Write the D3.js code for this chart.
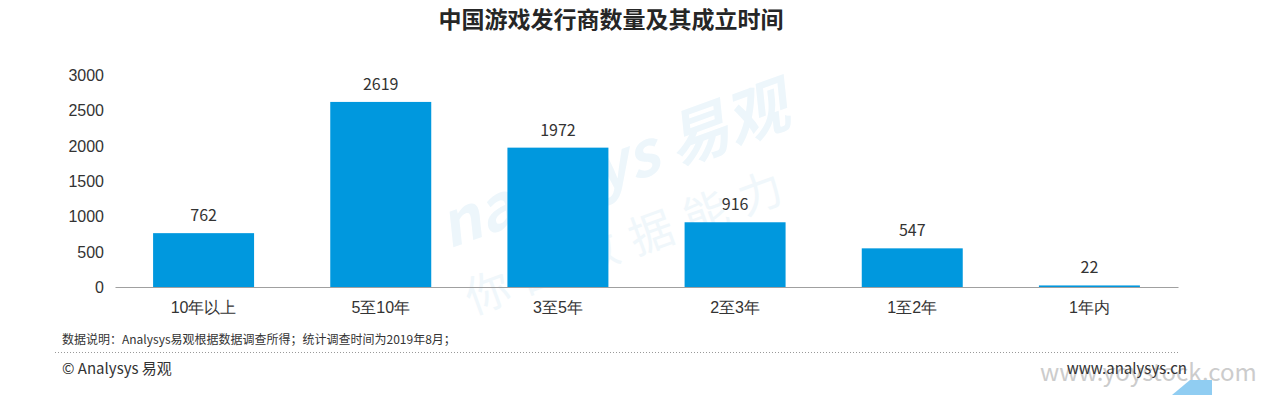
<!DOCTYPE html>
<html lang="zh">
<head>
<meta charset="UTF-8">
<title>中国游戏发行商数量及其成立时间</title>
<script src="https://d3js.org/d3.v7.min.js"></script>
<style>
  body { margin: 0; background: #fff; font-family: "Noto Sans CJK SC", "Noto Sans", sans-serif; }
  svg text { fill: #333; }
</style>
</head>
<body>
<div id="chart"></div>
<script>
const categories = ["10年以上", "5至10年", "3至5年", "2至3年", "1至2年", "1年内"];
const values = [762, 2619, 1972, 916, 547, 22];
const yTicks = [0, 500, 1000, 1500, 2000, 2500, 3000];

const W = 1261, H = 395;
const margin = { top: 75, left: 115, right: 83, bottom: 108 };

const svg = d3.select("#chart").append("svg")
  .attr("width", W).attr("height", H);

// faint watermark
const wm = svg.append("g").attr("transform", "translate(640,190) rotate(-20)");
wm.append("text").attr("x", -200).attr("y", -10)
  .style("font-size", "62px").style("font-weight", "bold").style("font-style", "italic")
  .style("fill", "#edf6fb").text("nalysys 易观");
wm.append("text").attr("x", -200).attr("y", 60)
  .style("font-size", "44px").style("fill", "#f0f7fb").style("letter-spacing", "14px")
  .text("你的数据能力");

const x = d3.scaleBand().domain(categories)
  .range([margin.left, W - margin.right]).paddingInner(0.43).paddingOuter(0.215);
const y = d3.scaleLinear().domain([0, 3000]).range([H - margin.bottom, margin.top]);

// title
svg.append("text").attr("x", 611).attr("y", 28).attr("text-anchor", "middle")
  .style("font-size", "23px").style("font-weight", "bold").style("fill", "#262626")
  .text("中国游戏发行商数量及其成立时间");

// bars
svg.selectAll("rect.bar").data(values).enter().append("rect")
  .attr("class", "bar")
  .attr("x", (d, i) => x(categories[i]))
  .attr("width", x.bandwidth())
  .attr("y", d => y(d))
  .attr("height", d => y(0) - y(d))
  .style("fill", "#0098de");

// value labels
svg.selectAll("text.val").data(values).enter().append("text")
  .attr("class", "val")
  .attr("x", (d, i) => x(categories[i]) + x.bandwidth() / 2)
  .attr("y", d => y(d) - 12)
  .attr("text-anchor", "middle")
  .style("font-size", "16px")
  .text(d => d);

// y axis
const yAxis = svg.append("g").attr("transform", `translate(${margin.left - 11},0)`)
  .call(d3.axisLeft(y).tickValues(yTicks).tickFormat(d3.format("d")).tickSize(0).tickPadding(0));
yAxis.select(".domain").remove();
yAxis.selectAll("text").style("font-size", "16px").style("fill", "#333").attr("dy", "0.35em");

// x axis
const xAxis = svg.append("g").attr("transform", `translate(0,${y(0)})`)
  .call(d3.axisBottom(x).tickSize(0).tickPadding(15).tickSizeOuter(0));
xAxis.select(".domain").style("stroke", "#a0a0a0").style("stroke-width", 1.2);
xAxis.selectAll("text").style("font-size", "16px").style("fill", "#333");

// footnote
svg.append("text").attr("x", 62).attr("y", 344)
  .style("font-size", "12px").text("数据说明：Analysys易观根据数据调查所得；统计调查时间为2019年8月；");

svg.append("line").attr("x1", 55).attr("x2", 1180).attr("y1", 352.5).attr("y2", 352.5)
  .style("stroke", "#999").style("stroke-dasharray", "1,2");

svg.append("text").attr("x", 62).attr("y", 374)
  .style("font-size", "15px").text("© Analysys 易观");

// external watermark
svg.append("text").attr("x", 1040).attr("y", 381)
  .style("font-size", "24px").style("fill", "#cccccc").text("www.yoystock.com");
svg.append("path").attr("d", "M1190,380 L1212,380 L1212,395 L1172,395 Z").style("fill", "#90cdf2");

svg.append("text").attr("x", 1187).attr("y", 374).attr("text-anchor", "end")
  .style("font-size", "15px").text("www.analysys.cn");
</script>
</body>
</html>
